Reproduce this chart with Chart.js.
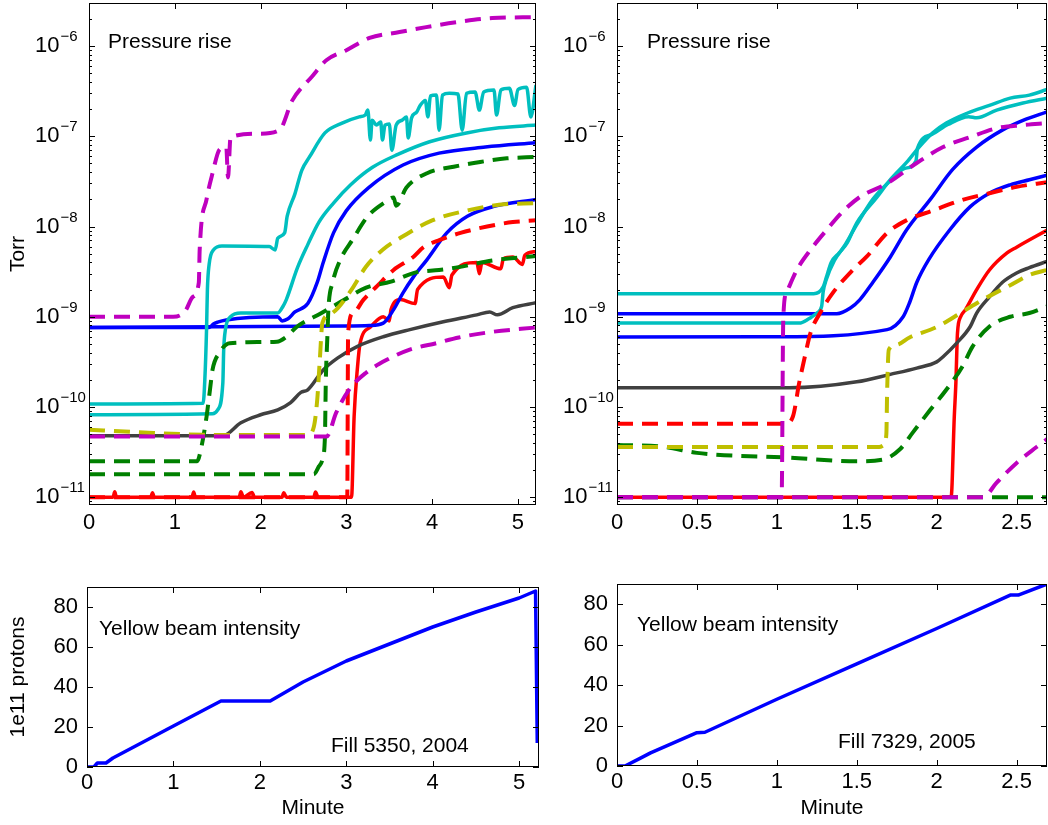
<!DOCTYPE html>
<html>
<head>
<meta charset="utf-8">
<script src="https://cdn.jsdelivr.net/npm/chart.js@4.4.1/dist/chart.umd.min.js"></script>
<style>
  body { margin: 0; background: #fff; width: 1048px; height: 825px; position: relative; overflow: hidden; }
  canvas { position: absolute; }
</style>
</head>
<body>
<canvas id="tl" width="540" height="545" style="left:0;top:0"></canvas>
<canvas id="tr" width="488" height="545" style="left:560px;top:0"></canvas>
<canvas id="bl" width="540" height="265" style="left:0;top:560px"></canvas>
<canvas id="br" width="488" height="265" style="left:560px;top:560px"></canvas>
<script>
// ---- Fill 5350 (2004): pressure [minute, Torr] ----
const tl_magentaHi = [[0,1.0e-9],[0.98,1.0e-9],[1.12,1.15e-9],[1.21,1.66e-9],[1.28,2.4e-9],[1.29,5.5e-9],[1.37,2.0e-8],[1.44,3.9e-8],[1.52,7.1e-8],[1.6,7.6e-8],[1.62,3.5e-8],[1.65,9.8e-8],[2.0,1.07e-7],[2.22,1.17e-7],[2.37,2.5e-7],[2.6,4.6e-7],[2.77,7.0e-7],[3.0,9.0e-7],[3.27,1.23e-6],[3.62,1.43e-6],[3.93,1.62e-6],[4.31,1.85e-6],[4.7,2.04e-6],[5.21,2.09e-6]];
const tl_magentaLo = [[0,4.7e-11],[2.77,4.7e-11],[2.88,8.6e-11],[3.03,1.55e-10],[3.23,2.4e-10],[3.47,3.33e-10],[3.73,4.3e-10],[4.05,5.1e-10],[4.31,5.9e-10],[4.7,6.8e-10],[5.21,7.6e-10]];
const tl_yellow = [[0,5.6e-11],[0.5,5.3e-11],[1.5,4.9e-11],[2.55,4.9e-11],[2.62,6e-11],[2.66,1.2e-10],[2.69,3.3e-10],[2.72,8.5e-10],[2.8,1.05e-9],[2.9,1.25e-9],[3.06,2.0e-9],[3.23,3.6e-9],[3.42,5.5e-9],[3.68,8.0e-9],[4.0,1.17e-8],[4.4,1.5e-8],[4.78,1.74e-8],[5.21,1.82e-8]];
const tl_greenA = [[0,2.5e-11],[1.26,2.5e-11],[1.31,3.6e-11],[1.37,7.8e-11],[1.41,1.55e-10],[1.44,2.6e-10],[1.52,4.0e-10],[1.64,5.1e-10],[2.19,5.3e-10],[2.3,6.0e-10],[2.42,7.7e-10],[2.71,1.1e-9],[2.98,1.55e-9],[3.23,2.1e-9],[3.52,2.45e-9],[3.81,3.1e-9],[4.08,3.3e-9],[4.31,3.55e-9],[4.7,4.2e-9],[5.21,4.7e-9]];
const tl_greenB = [[0,1.8e-11],[2.62,1.8e-11],[2.68,2.2e-11],[2.72,2.6e-11],[2.75,4.7e-11],[2.76,1.9e-10],[2.78,6.6e-10],[2.79,1.2e-9],[2.84,2.4e-9],[2.93,4.3e-9],[3.07,7.1e-9],[3.25,1.3e-8],[3.45,1.86e-8],[3.55,2.1e-8],[3.58,1.7e-8],[3.7,2.7e-8],[3.94,3.9e-8],[4.25,4.6e-8],[4.56,5.2e-8],[4.87,5.7e-8],[5.21,5.9e-8]];
const tl_redDash = [[0,1.0e-11],[3.01,1.0e-11],[3.02,6.6e-10],[3.08,1.1e-9],[3.2,1.55e-9],[3.36,2.2e-9],[3.55,3.3e-9],[3.78,4.6e-9],[3.9,5.9e-9],[4.09,7.1e-9],[4.33,8.5e-9],[4.64,1.0e-8],[4.94,1.12e-8],[5.21,1.17e-8]];
const tl_cyanA = [[0,1.08e-10],[1.33,1.1e-10],[1.35,2.0e-10],[1.37,7.2e-10],[1.38,2.0e-9],[1.4,3.8e-9],[1.45,5.5e-9],[1.55,6.1e-9],[2.1,6.0e-9],[2.17,5.5e-9],[2.2,7.4e-9],[2.28,8.5e-9],[2.31,1.3e-8],[2.4,2.3e-8],[2.48,4.2e-8],[2.57,5.9e-8],[2.75,1.09e-7],[2.95,1.4e-7],[3.15,1.64e-7],
  [3.22,1.72e-7],[3.25,1.95e-7],[3.28,9.1e-8],[3.3,1.51e-7],[3.35,1.33e-7],[3.4,1.44e-7],[3.42,9.1e-8],[3.45,1.33e-7],[3.5,1.37e-7],[3.53,7.0e-8],[3.58,1.33e-7],[3.65,1.51e-7],[3.7,1.64e-7],[3.72,9.6e-8],[3.76,1.6e-7],[3.82,1.86e-7],[3.86,2.2e-7],[3.92,2.5e-7],[3.95,1.64e-7],[3.98,2.8e-7],[4.05,2.86e-7],[4.08,1.17e-7],[4.12,2.86e-7],[4.2,3.0e-7],[4.3,2.94e-7],[4.35,1.17e-7],[4.4,3.0e-7],[4.5,3.1e-7],[4.55,1.95e-7],[4.6,3.1e-7],[4.72,3.26e-7],[4.75,1.72e-7],[4.8,3.26e-7],[4.9,3.4e-7],[4.96,2.2e-7],[5.0,3.3e-7],[5.1,3.5e-7],[5.15,1.64e-7],[5.21,3.7e-7]];
const tl_cyanB = [[0,8.2e-11],[1.44,8.4e-11],[1.5,9.3e-11],[1.56,1.85e-10],[1.57,4.3e-10],[1.59,7.2e-10],[1.65,1.0e-9],[1.77,1.1e-9],[2.2,1.1e-9],[2.26,1.3e-9],[2.3,1.55e-9],[2.43,3.5e-9],[2.55,6.3e-9],[2.68,1.12e-8],[2.85,1.82e-8],[3.05,2.9e-8],[3.3,4.5e-8],[3.6,6.3e-8],[3.97,8.7e-8],[4.4,1.09e-7],[4.78,1.24e-7],[5.21,1.33e-7]];
const tl_blueHi = [[0,7.6e-10],[1.4,7.6e-10],[1.45,8.3e-10],[1.5,8.7e-10],[1.6,9.2e-10],[2.2,1.0e-9],[2.25,9.0e-10],[2.32,9.5e-10],[2.4,1.13e-9],[2.55,1.4e-9],[2.66,2.4e-9],[2.73,4.0e-9],[2.85,8.5e-9],[3.0,1.5e-8],[3.26,2.7e-8],[3.66,4.8e-8],[4.08,6.5e-8],[4.62,7.6e-8],[5.21,8.5e-8]];
const tl_blueLo = [[0,7.6e-10],[3.0,7.9e-10],[3.27,8.0e-10],[3.43,8.5e-10],[3.55,1.2e-9],[3.66,1.84e-9],[3.78,2.75e-9],[3.94,4.3e-9],[4.17,8.5e-9],[4.41,1.3e-8],[4.71,1.66e-8],[5.21,2.0e-8]];
const tl_gray = [[0,4.8e-11],[1.56,4.8e-11],[1.77,6.7e-11],[2.0,8.2e-11],[2.2,9.3e-11],[2.35,1.12e-10],[2.47,1.45e-10],[2.55,1.55e-10],[2.73,2.57e-10],[2.9,3.5e-10],[3.13,4.7e-10],[3.43,6.0e-10],[3.74,7.2e-10],[4.13,8.8e-10],[4.52,1.05e-9],[4.67,1.13e-9],[4.76,1.05e-9],[4.94,1.26e-9],[5.21,1.43e-9]];
const tl_redSolid = [[0,1.0e-11],[0.28,1.0e-11],[0.3,1.15e-11],[0.32,1.0e-11],[0.72,1.0e-11],[0.74,1.12e-11],[0.76,1.0e-11],[1.2,1.0e-11],[1.22,1.14e-11],[1.24,1.0e-11],[1.75,1.0e-11],[1.77,1.15e-11],[1.8,1.0e-11],[1.9,1.13e-11],[1.93,1.0e-11],[2.25,1.0e-11],[2.27,1.12e-11],[2.3,1.0e-11],[2.62,1.0e-11],[2.64,1.14e-11],[2.67,1.0e-11],[3.06,1.0e-11],[3.09,7.8e-11],[3.13,2.8e-10],[3.16,5.1e-10],[3.28,7.7e-10],[3.43,1.0e-9],[3.5,9.0e-10],[3.52,1.2e-9],[3.63,1.55e-9],[3.8,1.4e-9],[3.83,2.0e-9],[4.13,2.75e-9],[4.2,2.1e-9],[4.23,2.9e-9],[4.52,4.0e-9],[4.55,3.0e-9],[4.58,4.0e-9],[4.8,3.4e-9],[4.83,4.4e-9],[4.94,4.6e-9],[5.05,3.8e-9],[5.08,4.8e-9],[5.21,5.3e-9]];

// ---- Fill 7329 (2005): pressure [minute, Torr] ----
const tr_magentaHi = [[0,1.0e-11],[1.03,1.0e-11],[1.04,9.3e-10],[1.06,1.84e-9],[1.125,3.3e-9],[1.21,5.5e-9],[1.31,9.1e-9],[1.41,1.45e-8],[1.52,2.13e-8],[1.69,3.0e-8],[1.875,5.06e-8],[2.04,7.6e-8],[2.21,9.8e-8],[2.375,1.23e-7],[2.54,1.33e-7],[2.69,1.4e-7]];
const tr_magentaLo = [[0,1.0e-11],[2.29,1.0e-11],[2.375,1.45e-11],[2.5,2.4e-11],[2.625,3.6e-11],[2.69,4.4e-11]];
const tr_redDash = [[0,6.5e-11],[1.05,6.5e-11],[1.1,7.8e-11],[1.14,1.86e-10],[1.175,3.6e-10],[1.21,6.6e-10],[1.27,1.1e-9],[1.35,1.84e-9],[1.475,3.3e-9],[1.56,4.6e-9],[1.69,8.5e-9],[1.81,1.17e-8],[1.975,1.5e-8],[2.16,1.97e-8],[2.33,2.34e-8],[2.5,2.75e-8],[2.69,3.1e-8]];
const tr_yellow = [[0,3.6e-11],[1.64,3.6e-11],[1.67,3.8e-11],[1.685,5.0e-11],[1.69,1.5e-10],[1.7,4.3e-10],[1.75,4.9e-10],[1.83,5.9e-10],[2.0,7.7e-10],[2.16,1.13e-9],[2.29,1.55e-9],[2.46,2.24e-9],[2.58,2.9e-9],[2.69,3.3e-9]];
const tr_greenA = [[0,3.8e-11],[0.3,3.6e-11],[0.5,3.1e-11],[1.08,2.75e-11],[1.5,2.5e-11],[1.66,2.6e-11],[1.77,3.4e-11],[1.85,5.2e-11],[1.96,9.3e-11],[2.06,1.55e-10],[2.16,2.8e-10],[2.225,4.7e-10],[2.33,7.8e-10],[2.46,1.0e-9],[2.58,1.1e-9],[2.69,1.3e-9]];
const tr_greenB = [[0,1.0e-11],[2.69,1.0e-11]];
const tr_cyanA = [[0,1.8e-9],[1.23,1.8e-9],[1.29,2.14e-9],[1.31,2.75e-9],[1.34,4.0e-9],[1.39,5.1e-9],[1.44,6.6e-9],[1.5,1.1e-8],[1.625,2.1e-8],[1.71,3.3e-8],[1.81,5.1e-8],[1.89,7.6e-8],[1.975,1.09e-7],[2.06,1.4e-7],[2.19,1.8e-7],[2.33,2.2e-7],[2.46,2.65e-7],[2.58,2.86e-7],[2.69,3.3e-7]];
const tr_cyanB = [[0,8.5e-10],[1.14,8.5e-10],[1.2,9.5e-10],[1.25,1.1e-9],[1.28,1.3e-9],[1.29,1.9e-9],[1.31,2.6e-9],[1.36,4.2e-9],[1.42,6.0e-9],[1.5,1.05e-8],[1.6,2.0e-8],[1.7,3.1e-8],[1.8,4.4e-8],[1.87,5.3e-8],[1.88,7.4e-8],[1.97,1.05e-7],[2.07,1.35e-7],[2.2,1.65e-7],[2.25,1.6e-7],[2.375,1.95e-7],[2.54,2.34e-7],[2.69,2.65e-7]];
const tr_blueHi = [[0,1.08e-9],[1.375,1.08e-9],[1.46,1.25e-9],[1.52,1.55e-9],[1.6,2.4e-9],[1.71,4.6e-9],[1.81,9.1e-9],[1.96,2.0e-8],[2.1,4.3e-8],[2.25,7.6e-8],[2.41,1.17e-7],[2.54,1.5e-7],[2.69,1.86e-7]];
const tr_blueLo = [[0,5.95e-10],[1.0,6.0e-10],[1.69,7.2e-10],[1.79,1.0e-9],[1.83,1.43e-9],[1.875,2.4e-9],[1.95,4.3e-9],[2.08,9.1e-9],[2.21,1.66e-8],[2.33,2.34e-8],[2.46,2.9e-8],[2.58,3.3e-8],[2.69,3.7e-8]];
const tr_gray = [[0,1.63e-10],[1.08,1.63e-10],[1.5,1.9e-10],[1.71,2.3e-10],[1.875,2.7e-10],[2.0,3.16e-10],[2.04,3.6e-10],[2.125,5.1e-10],[2.21,7.8e-10],[2.25,1.1e-9],[2.33,1.66e-9],[2.41,2.4e-9],[2.5,3.06e-9],[2.58,3.5e-9],[2.69,4.1e-9]];
const tr_redSolid = [[0,1.0e-11],[2.09,1.0e-11],[2.11,7.8e-11],[2.12,1.86e-10],[2.13,6.6e-10],[2.15,1.0e-9],[2.18,1.2e-9],[2.25,2.0e-9],[2.33,3.3e-9],[2.44,5.1e-9],[2.5,5.9e-9],[2.69,9.1e-9]];

// ---- yellow beam intensity (1e11 protons) ----
const bl_minutes = [0,0.08,0.12,0.22,0.3,1.0,1.55,2.12,2.5,3.0,3.5,4.0,4.5,5.0,5.19,5.21];
const bl_protons = [0,0,2,2,4.5,20.5,33,33,42.5,53,61.5,70,77.5,84.5,88,12];
const br_minutes = [0,0.05,0.15,0.21,0.5,0.55,1.0,1.5,2.0,2.46,2.51,2.69];
const br_protons = [0,0,4,6.5,16.5,16.7,33,50.5,68,84.5,84.5,90];

const decades = [1e-11,1e-10,1e-9,1e-8,1e-7,1e-6];

const col = { c:'rgb(0,191,191)', m:'rgb(191,0,191)', y:'rgb(191,191,0)', g:'rgb(0,128,0)', b:'rgb(0,0,255)', r:'rgb(255,0,0)', k:'rgb(64,64,64)' };
const FONT = "'Liberation Sans', Arial, Helvetica, sans-serif";
Chart.defaults.font.family = FONT;
Chart.defaults.font.size = 21;
Chart.defaults.color = '#000';

function line(pts, color, dashed, smooth) {
  return {
    data: pts.map(p => ({x: p[0], y: p[1]})),
    borderColor: color,
    borderWidth: dashed ? 4 : 3.5,
    borderDash: dashed ? [16, 9] : [],
    borderCapStyle: 'butt',
    borderJoinStyle: 'round',
    cubicInterpolationMode: smooth ? 'monotone' : 'default',
    pointRadius: 0, tension: 0, fill: false, clip: 0
  };
}
const solid = (pts, c) => line(pts, c, false, true);
const dash = (pts, c) => line(pts, c, true, true);

const plainNum = v => String(Math.round(v * 100) / 100);

// box, inward ticks, log labels and panel notes, matlab style
const frame = {
  id: 'frame',
  afterDraw(chart, args, opts) {
    const {ctx, chartArea: a} = chart;
    const xs = chart.scales.x, ys = chart.scales.y;
    ctx.save();
    ctx.strokeStyle = '#000';
    ctx.lineWidth = 1;
    ctx.strokeRect(a.left + 0.5, a.top + 0.5, a.right - a.left - 1, a.bottom - a.top - 1);
    ctx.beginPath();
    xs.ticks.forEach(t => {
      const px = Math.round(xs.getPixelForValue(t.value)) + 0.5;
      ctx.moveTo(px, a.bottom); ctx.lineTo(px, a.bottom - 6);
      ctx.moveTo(px, a.top); ctx.lineTo(px, a.top + 6);
    });
    if (ys.type === 'logarithmic') {
      for (let e = -12; e <= -5; e++) {
        for (let m = 1; m < 10; m++) {
          const v = m * Math.pow(10, e);
          if (v < ys.min || v > ys.max) continue;
          const py = Math.round(ys.getPixelForValue(v)) + 0.5;
          const len = m === 1 ? 6 : 3;
          ctx.moveTo(a.left, py); ctx.lineTo(a.left + len, py);
          ctx.moveTo(a.right, py); ctx.lineTo(a.right - len, py);
        }
      }
    } else {
      ys.ticks.forEach(t => {
        const py = Math.round(ys.getPixelForValue(t.value)) + 0.5;
        ctx.moveTo(a.left, py); ctx.lineTo(a.left + 6, py);
        ctx.moveTo(a.right, py); ctx.lineTo(a.right - 6, py);
      });
    }
    ctx.stroke();

    ctx.fillStyle = '#000';
    if (ys.type === 'logarithmic') {
      decades.forEach(v => {
        const py = ys.getPixelForValue(v);
        const x0 = a.left - 54;
        ctx.font = '22px ' + FONT;
        ctx.textBaseline = 'middle';
        ctx.textAlign = 'left';
        ctx.fillText('10', x0, py);
        const w = ctx.measureText('10').width;
        ctx.font = '15px ' + FONT;
        ctx.fillText('\u2212' + Math.round(-Math.log10(v)), x0 + w + 1, py - 9);
      });
    }
    ctx.font = '21px ' + FONT;
    ctx.textBaseline = 'alphabetic';
    ctx.textAlign = 'left';
    (opts.notes || []).forEach(n => ctx.fillText(n.text, a.left + n.dx, a.top + n.dy));
    ctx.restore();
  }
};

function pressureChart(id, series, xmax, step, yw, padRight, withTitle, notes) {
  return new Chart(document.getElementById(id), {
    type: 'line',
    data: { datasets: series },
    plugins: [frame],
    options: {
      responsive: false, animation: false, events: [],
      layout: { padding: { top: 3, right: padRight, left: 0, bottom: 0 } },
      plugins: { legend: { display: false }, tooltip: { enabled: false }, frame: { notes: notes } },
      scales: {
        x: {
          type: 'linear', min: 0, max: xmax,
          grid: { display: false, drawTicks: false }, border: { display: false },
          ticks: { stepSize: step, includeBounds: false, padding: 5, maxRotation: 0, callback: plainNum, font: { size: 22 } },
          afterFit: s => { s.height = 40; }
        },
        y: {
          type: 'logarithmic', min: 8.2e-12, max: 3e-6,
          grid: { display: false, drawTicks: false }, border: { display: false },
          ticks: { display: false },
          title: { display: withTitle, text: 'Torr', padding: { top: 6, bottom: 0 } },
          afterFit: s => { s.width = yw; }
        }
      }
    }
  });
}

function beamChart(id, xs, ys, xmax, step, yw, padTop, xh, withTitle, notes) {
  return new Chart(document.getElementById(id), {
    type: 'line',
    data: { datasets: [line(xs.map((x, i) => [x, ys[i]]), col.b, false, false)] },
    plugins: [frame],
    options: {
      responsive: false, animation: false, events: [],
      layout: { padding: { top: padTop, right: 1, left: 0, bottom: 0 } },
      plugins: { legend: { display: false }, tooltip: { enabled: false }, frame: { notes: notes } },
      scales: {
        x: {
          type: 'linear', min: 0, max: xmax,
          grid: { display: false, drawTicks: false }, border: { display: false },
          ticks: { stepSize: step, includeBounds: false, padding: 3, maxRotation: 0, callback: plainNum, font: { size: 22 } },
          title: { display: true, text: 'Minute', padding: { top: 0, bottom: 4 } },
          afterFit: s => { s.height = xh; }
        },
        y: {
          type: 'linear', min: 0, max: 90,
          grid: { display: false, drawTicks: false }, border: { display: false },
          ticks: { stepSize: 20, includeBounds: false, padding: 9, font: { size: 22 } },
          title: { display: withTitle, text: '1e11 protons', padding: { top: 6, bottom: 0 } },
          afterFit: s => { s.width = yw; }
        }
      }
    }
  });
}

pressureChart('tl', [
  dash(tl_magentaHi, col.m), dash(tl_magentaLo, col.m),
  dash(tl_yellow, col.y), dash(tl_greenA, col.g), dash(tl_greenB, col.g),
  dash(tl_redDash, col.r),
  solid(tl_cyanA, col.c), solid(tl_cyanB, col.c),
  solid(tl_blueHi, col.b), solid(tl_blueLo, col.b),
  solid(tl_gray, col.k), solid(tl_redSolid, col.r)
], 5.21, 1, 89, 4, true, [{ text: 'Pressure rise', dx: 19, dy: 45 }]);

pressureChart('tr', [
  dash(tr_magentaHi, col.m), dash(tr_magentaLo, col.m),
  dash(tr_redDash, col.r), dash(tr_yellow, col.y), dash(tr_greenA, col.g),
  solid(tr_cyanA, col.c), solid(tr_cyanB, col.c),
  solid(tr_blueHi, col.b), solid(tr_blueLo, col.b),
  solid(tr_gray, col.k), solid(tr_redSolid, col.r),
  dash(tr_greenB, col.g)
], 2.69, 0.5, 57, 1, false, [{ text: 'Pressure rise', dx: 30, dy: 45 }]);

beamChart('bl', bl_minutes, bl_protons, 5.23, 1, 87, 27, 58, true, [
  { text: 'Yellow beam intensity', dx: 12, dy: 48 },
  { text: 'Fill 5350, 2004', dx: 244, dy: 165 }
]);

beamChart('br', br_minutes, br_protons, 2.69, 0.5, 57, 24, 59, false, [
  { text: 'Yellow beam intensity', dx: 20, dy: 47 },
  { text: 'Fill 7329, 2005', dx: 221, dy: 164 }
]);
</script>
</body>
</html>
